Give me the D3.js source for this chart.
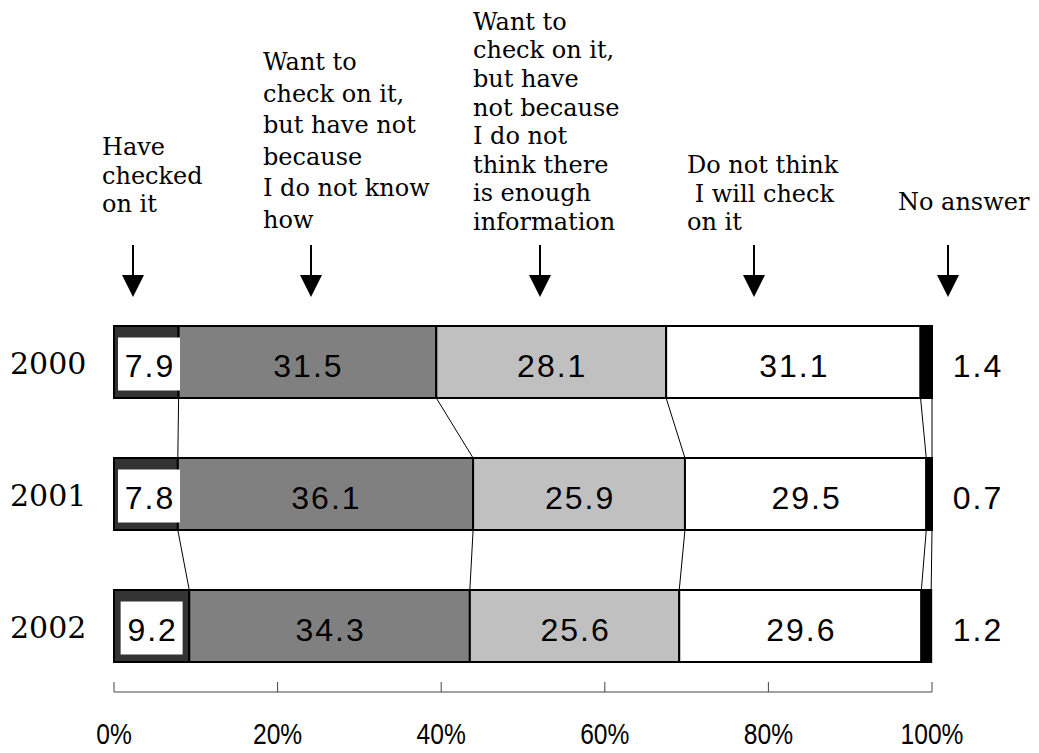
<!DOCTYPE html>
<html>
<head>
<meta charset="utf-8">
<script src="https://cdn.jsdelivr.net/npm/d3@7"></script>
<style>
  body { margin: 0; background: #fff; }
  svg { display: block; }
  .cat { font-family: "DejaVu Serif", serif; font-size: 24px; fill: #000; }
  .year { font-family: "DejaVu Serif", serif; font-size: 30px; fill: #000; }
  .num { font-family: "Liberation Sans", Arial, sans-serif; font-size: 32px; letter-spacing: 2px; fill: #000; }
  .tick-lbl { font-family: "Liberation Sans", Arial, sans-serif; font-size: 30px; fill: #000; }
</style>
</head>
<body>
<svg id="chart" width="1039" height="753"></svg>
<script>
// data
var years = ["2000", "2001", "2002"]
var categories = ["checked", "dontKnowHow", "notEnoughInfo", "wontCheck", "noAnswer"]
var checked       = [7.9, 7.8, 9.2]
var dontKnowHow   = [31.5, 36.1, 34.3]
var notEnoughInfo = [28.1, 25.9, 25.6]
var wontCheck     = [31.1, 29.5, 29.6]
var noAnswer      = [1.4, 0.7, 1.2]
var tickValues = [0, 20, 40, 60, 80, 100]

var catLabels = [
  ["Have", "checked", "on it"],
  ["Want to", "check on it,", "but have not", "because", "I do not know", "how"],
  ["Want to", "check on it,", "but have", "not because", "I do not", "think there", "is enough", "information"],
  ["Do not think", "\u00a0I will check", "on it"],
  ["No answer"]
]

// where the heading blocks and arrows sit (layout, not data)
var heads = [
  {x: 102, last: 212, lh: 28.5, ax: 133},
  {x: 263, last: 228, lh: 31.6, ax: 311},
  {x: 473, last: 230, lh: 28.6, ax: 540},
  {x: 687, last: 230, lh: 28.5, ax: 754},
  {x: 898, last: 210, lh: 28.5, ax: 948}
]
var fills = ["#333333", "#808080", "#c0c0c0", "#ffffff", "#000000"]

var series = [checked, dontKnowHow, notEnoughInfo, wontCheck, noAnswer]
var rows = years.map(function(y, i){
  var r = {year: y}
  categories.forEach(function(c, k){ r[c] = series[k][i] })
  return r
})

var svg = d3.select("#chart")
var x = d3.scaleLinear().domain([0, 100]).range([114, 932])
var y = d3.scaleBand().domain(years).range([296, 692])
  .paddingInner(60/132).paddingOuter(30/132)

var stacked = d3.stack().keys(categories)(rows)

// connector lines between bars
var conn = svg.append("g")
for(var i = 0; i < years.length - 1; i++){
  stacked.forEach(function(layer){
    conn.append("line")
      .attr("x1", x(layer[i][1])).attr("y1", y(years[i]) + y.bandwidth())
      .attr("x2", x(layer[i+1][1])).attr("y2", y(years[i+1]))
      .attr("stroke", "#000").attr("stroke-width", 1)
  })
}

// bars
var layers = svg.append("g").selectAll("g")
  .data(stacked).enter().append("g")
    .attr("fill", function(d, k){ return fills[k] })

layers.selectAll("rect")
  .data(function(d){ return d }).enter()
  .append("rect")
    .attr("x", function(d){ return x(d[0]) })
    .attr("y", function(d){ return y(d.data.year) })
    .attr("width", function(d){ return x(d[1]) - x(d[0]) })
    .attr("height", y.bandwidth())
    .attr("stroke", "#000")
    .attr("stroke-width", 2)

// value labels
stacked.forEach(function(layer, k){
  layer.forEach(function(d){
    var cy = y(d.data.year) + y.bandwidth()/2
    var v = d.data[layer.key]
    var cx
    if(k == 0){
      var bw = 62, bh = 53
      cx = Math.max((x(d[0]) + x(d[1]))/2, x(d[0]) + 4 + bw/2)
      svg.append("rect")
        .attr("x", cx - bw/2).attr("y", cy + 2 - bh/2)
        .attr("width", bw).attr("height", bh)
        .attr("fill", "#fff")
    }
    else if(k == categories.length - 1){
      cx = 977
    }
    else cx = (x(d[0]) + x(d[1]))/2
    svg.append("text")
      .attr("class", "num")
      .attr("x", cx + 1).attr("y", cy + 15)
      .attr("text-anchor", "middle")
      .text(v.toFixed(1))
  })
})

// year labels
svg.append("g").selectAll("text")
  .data(years).enter().append("text")
    .attr("class", "year")
    .attr("x", 10)
    .attr("y", function(d){ return y(d) + y.bandwidth()/2 + 12 })
    .text(function(d){ return d })

// heading blocks
catLabels.forEach(function(lines, k){
  var h = heads[k]
  var t = svg.append("text").attr("class", "cat")
  lines.forEach(function(s, j){
    t.append("tspan")
      .attr("x", h.x)
      .attr("y", h.last - (lines.length - 1 - j) * h.lh)
      .text(s)
  })
  // arrow
  svg.append("line")
    .attr("x1", h.ax).attr("x2", h.ax)
    .attr("y1", 245).attr("y2", 280)
    .attr("stroke", "#000").attr("stroke-width", 2)
  svg.append("path")
    .attr("d", "M" + (h.ax - 11) + ",275L" + (h.ax + 11) + ",275L" + h.ax + ",297Z")
    .attr("fill", "#000")
})

// axis
var axis = svg.append("g")
axis.append("line")
  .attr("x1", x(0)).attr("x2", x(100))
  .attr("y1", 692).attr("y2", 692)
  .attr("stroke", "#444").attr("stroke-width", 1)
axis.selectAll(".tk")
  .data(tickValues).enter().append("line")
    .attr("x1", function(d){ return x(d) }).attr("x2", function(d){ return x(d) })
    .attr("y1", 682).attr("y2", 692)
    .attr("stroke", "#444").attr("stroke-width", 1)
axis.selectAll(".tick-lbl")
  .data(tickValues).enter().append("text")
    .attr("class", "tick-lbl")
    .attr("transform", function(d){ return "translate(" + x(d) + ",744) scale(0.82,1)" })
    .attr("text-anchor", "middle")
    .text(function(d){ return d + "%" })
</script>
</body>
</html>
